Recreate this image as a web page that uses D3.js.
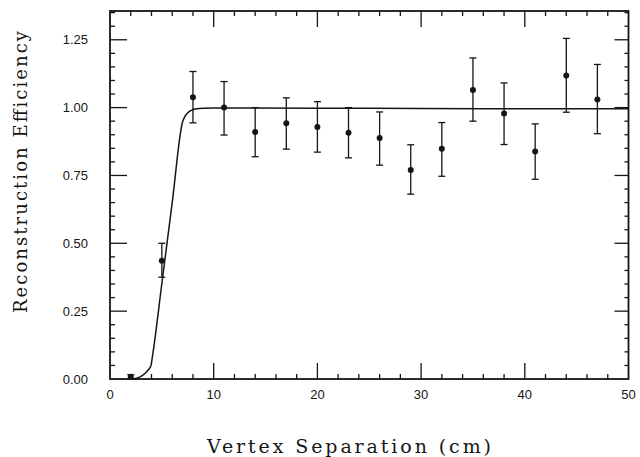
<!DOCTYPE html>
<html><head><meta charset="utf-8">
<script src="https://cdn.jsdelivr.net/npm/d3@7"></script>
<style>
html,body{margin:0;padding:0;background:#fff;}
svg{display:block;}
</style></head>
<body>
<svg id="chart" width="640" height="457"></svg>
<script>
// ---- data ----
const xVals   = [2, 5, 8, 11, 14, 17, 20, 23, 26, 29, 32, 35, 38, 41, 44, 47];
const yVals   = [0.008, 0.436, 1.038, 1.000, 0.910, 0.942, 0.929, 0.907, 0.888, 0.770, 0.848, 1.065, 0.978, 0.838, 1.118, 1.030];
const errUp   = [0.008, 0.064, 0.095, 0.096, 0.090, 0.094, 0.093, 0.093, 0.096, 0.093, 0.097, 0.118, 0.113, 0.102, 0.137, 0.129];
const errDown = [0.008, 0.061, 0.094, 0.101, 0.091, 0.095, 0.093, 0.092, 0.100, 0.089, 0.101, 0.115, 0.114, 0.102, 0.135, 0.126];
const fitX = [2.2, 2.8, 3.3, 3.7, 3.95, 4.1, 5.0, 6.0, 7.0, 7.2, 7.5, 7.9, 8.4, 9.0, 10, 20, 30, 40, 50];
const fitY = [0.0, 0.006, 0.018, 0.034, 0.05, 0.085, 0.352, 0.65, 0.948, 0.966, 0.981, 0.991, 0.996, 0.998, 0.999, 0.998, 0.997, 0.996, 0.996];
const xTicks = [0, 10, 20, 30, 40, 50];
const yTicks = [0, 0.25, 0.5, 0.75, 1.0, 1.25];
const xTitle = "Vertex Separation (cm)";
const yTitle = "Reconstruction Efficiency";

// ---- layout ----
const svg = d3.select("#chart");
const YMAX = 1.356;
const x = d3.scaleLinear().domain([0, 50]).range([110, 628.5]);
const y = d3.scaleLinear().domain([0, YMAX]).range([379, 11]);
const ink = "#151515";

const g = svg.append("g");

const xMinor = d3.range(0, 50.01, 2).filter(v => v % 10 !== 0);
const yMinor = d3.range(0, YMAX, 0.05).map(v => +v.toFixed(2)).filter(v => Math.abs((v / 0.25) - Math.round(v / 0.25)) > 1e-6);

function tickLines(vals, orient, len) {
  vals.forEach(v => {
    let x1, y1, x2, y2;
    if (orient === "bottom") { x1 = x2 = x(v); y1 = y(0); y2 = y(0) - len; }
    if (orient === "top")    { x1 = x2 = x(v); y1 = y(YMAX); y2 = y(YMAX) + len; }
    if (orient === "left")   { y1 = y2 = y(v); x1 = x(0); x2 = x(0) + len; }
    if (orient === "right")  { y1 = y2 = y(v); x1 = x(50); x2 = x(50) - len; }
    g.append("line").attr("x1", x1).attr("y1", y1).attr("x2", x2).attr("y2", y2)
      .attr("stroke", ink).attr("stroke-width", 1.3);
  });
}
tickLines(xTicks.slice(1, -1), "bottom", 16);
tickLines(xMinor, "bottom", 5);
tickLines(xTicks.slice(1, -1), "top", 16);
tickLines(xMinor, "top", 5);
tickLines(yTicks.slice(1), "left", 17);
tickLines(yMinor, "left", 5);
tickLines(yTicks.slice(1), "right", 14);
tickLines(yMinor, "right", 4);

// frame
g.append("rect").attr("x", x(0)).attr("y", y(YMAX))
  .attr("width", x(50) - x(0)).attr("height", y(0) - y(YMAX))
  .attr("fill", "none").attr("stroke", ink).attr("stroke-width", 1.8);

// tick labels
g.selectAll(".xl").data(xTicks).enter().append("text")
  .attr("x", d => x(d)).attr("y", 399)
  .attr("text-anchor", "middle")
  .attr("font-family", "Liberation Sans, Arial, sans-serif").attr("font-size", 13)
  .attr("fill", ink).text(d => d);
g.selectAll(".yl").data(yTicks).enter().append("text")
  .attr("x", 88).attr("y", d => y(d) + 4.5)
  .attr("text-anchor", "end")
  .attr("font-family", "Liberation Sans, Arial, sans-serif").attr("font-size", 13)
  .attr("fill", ink).text(d => d.toFixed(2));

// axis titles
g.append("text").attr("x", 349).attr("y", 453).attr("text-anchor", "middle")
  .attr("font-family", "DejaVu Serif, Liberation Serif, serif").attr("font-size", 19)
  .attr("textLength", 284).attr("lengthAdjust", "spacing")
  .attr("fill", ink).text(xTitle);
g.append("text").attr("transform", "translate(27,172) rotate(-90)").attr("text-anchor", "middle")
  .attr("font-family", "DejaVu Serif, Liberation Serif, serif").attr("font-size", 18)
  .attr("textLength", 282).attr("lengthAdjust", "spacing")
  .attr("fill", ink).text(yTitle);

// fit curve
const fit = fitX.map((v, i) => [v, fitY[i]]);
g.append("path").datum(fit)
  .attr("d", d3.line().x(d => x(d[0])).y(d => y(d[1])).curve(d3.curveMonotoneX))
  .attr("fill", "none").attr("stroke", ink).attr("stroke-width", 1.5);

// error bars
const pts = xVals.map((v, i) => ({x: v, y: yVals[i], up: errUp[i], dn: errDown[i]}));
const eb = g.selectAll(".eb").data(pts).enter().append("g");
eb.append("line").attr("x1", d => x(d.x)).attr("x2", d => x(d.x))
  .attr("y1", d => y(d.y + d.up)).attr("y2", d => y(d.y - d.dn))
  .attr("stroke", ink).attr("stroke-width", 1.3);
eb.append("line").attr("x1", d => x(d.x) - 3.5).attr("x2", d => x(d.x) + 3.5)
  .attr("y1", d => y(d.y + d.up)).attr("y2", d => y(d.y + d.up))
  .attr("stroke", ink).attr("stroke-width", 1.3);
eb.append("line").attr("x1", d => x(d.x) - 3.5).attr("x2", d => x(d.x) + 3.5)
  .attr("y1", d => y(d.y - d.dn)).attr("y2", d => y(d.y - d.dn))
  .attr("stroke", ink).attr("stroke-width", 1.3);
eb.append("circle").attr("cx", d => x(d.x)).attr("cy", d => y(d.y)).attr("r", 3)
  .attr("fill", ink);
</script>
</body></html>
